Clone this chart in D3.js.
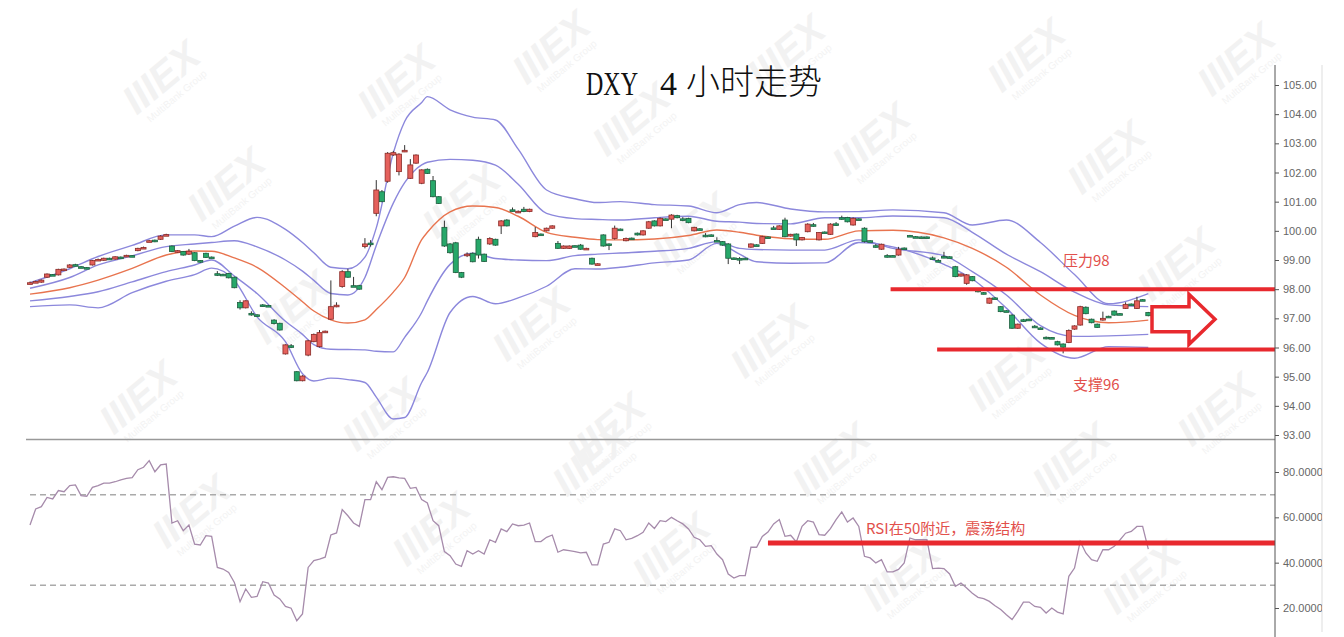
<!DOCTYPE html>
<html><head><meta charset="utf-8">
<script src="https://cdn.jsdelivr.net/npm/d3@7"></script>
<style>html,body{margin:0;padding:0;background:#fff;}svg{display:block;}</style>
</head><body>
<svg id="chart" width="1344" height="637"></svg>
<script>
// ---------- DATA ----------
const opens = [
98.20,98.24,98.24,98.41,98.50,98.49,98.67,98.75,98.84,98.77,
98.74,98.83,99.00,98.99,99.06,99.03,99.10,99.14,99.15,99.32,
99.41,99.64,99.68,99.71,99.85,99.48,99.27,99.29,99.20,99.25,
98.98,99.23,99.10,98.53,98.51,98.54,98.41,97.54,97.36,97.17,
97.12,97.46,97.44,96.94,96.83,95.78,96.06,95.17,94.86,95.74,
96.20,96.03,96.53,96.97,97.41,98.09,98.60,98.12,98.12,99.46,
99.58,100.60,101.34,101.70,102.60,102.03,102.72,101.80,102.32,101.63,
102.11,101.72,101.17,100.12,99.55,99.59,98.57,99.15,99.23,99.71,
99.20,99.55,99.71,100.17,100.37,100.72,100.64,100.74,100.66,99.80,
99.89,100.00,100.09,99.57,99.40,99.40,99.49,99.51,99.38,99.06,
98.85,99.86,99.55,99.74,100.06,99.66,99.75,99.92,99.86,100.09,
100.34,100.17,100.41,100.40,100.52,100.41,100.42,100.00,100.07,99.85,
99.86,99.67,99.63,99.55,99.07,99.05,99.06,99.44,99.52,99.57,
99.79,100.10,100.05,100.37,99.82,99.89,99.69,99.97,100.21,99.69,
99.96,99.88,100.24,100.45,100.46,100.20,100.41,100.09,99.66,99.49,
99.37,99.15,99.15,99.17,99.41,99.84,99.80,99.79,99.79,99.07,
98.98,99.12,99.11,98.77,98.45,98.20,98.43,97.97,97.88,97.52,
97.70,97.40,97.26,97.11,96.66,96.95,96.97,96.73,96.67,96.35,
96.34,96.20,96.12,96.17,96.63,96.77,97.38,96.97,96.80,96.94,
97.07,97.25,97.16,97.34,97.49,97.34,97.64,97.20];
const closes = [
98.22,98.26,98.31,98.52,98.48,98.68,98.69,98.83,98.82,98.75,
98.72,98.98,99.02,99.06,99.04,99.11,99.09,99.16,99.13,99.40,
99.43,99.66,99.63,99.82,99.87,99.29,99.32,99.17,99.30,98.98,
98.96,99.09,99.08,98.52,98.49,98.39,98.05,97.36,97.60,97.16,
97.10,97.43,97.42,96.82,96.60,96.09,96.05,94.86,95.02,96.23,
96.45,96.51,96.56,97.40,97.45,98.60,98.41,98.10,98.00,99.55,
99.57,101.40,101.00,102.66,102.68,102.63,102.76,102.26,102.60,102.09,
101.97,101.17,100.94,99.48,99.25,98.57,98.41,99.20,98.94,99.17,
98.95,99.74,99.51,100.34,100.17,100.70,100.67,100.66,100.74,99.94,
99.87,100.09,100.17,99.40,99.48,99.48,99.47,99.37,99.40,98.86,
98.87,99.48,99.53,100.09,100.04,99.74,99.73,99.86,100.00,100.31,
100.17,100.43,100.39,100.54,100.45,100.40,100.28,100.12,100.05,99.84,
99.84,99.65,99.51,99.06,99.05,99.03,99.04,99.55,99.50,99.80,
99.77,100.08,100.17,99.80,99.88,99.69,99.77,100.23,100.20,99.94,
99.94,100.23,100.23,100.42,100.31,100.43,100.39,99.63,99.64,99.48,
99.54,99.14,99.13,99.37,99.39,99.82,99.78,99.78,99.77,99.06,
98.97,99.10,99.09,98.43,98.52,98.49,98.29,97.91,97.84,97.69,
97.68,97.23,97.24,96.66,96.80,96.93,96.95,96.71,96.65,96.33,
96.33,96.09,96.01,96.58,96.74,97.40,97.16,96.85,96.69,97.00,
97.05,97.11,97.14,97.48,97.47,97.60,97.62,97.09];
const highs = [
98.26,98.29,98.33,98.54,98.52,98.70,98.71,98.86,98.87,98.79,
98.76,99.00,99.05,99.08,99.08,99.13,99.12,99.18,99.16,99.42,
99.46,99.69,99.70,99.85,99.90,99.50,99.34,99.31,99.38,99.27,
99.00,99.25,99.12,98.62,98.53,98.56,98.43,97.62,97.62,97.24,
97.14,97.49,97.46,96.97,96.85,96.11,96.12,95.19,95.05,96.26,
96.48,96.60,96.58,98.30,97.55,98.65,98.70,98.42,98.15,99.75,
99.68,101.74,101.40,102.70,102.74,102.66,102.94,102.46,102.62,102.11,
102.14,101.88,101.19,100.35,99.58,99.62,98.59,99.26,99.26,99.80,
99.22,99.78,99.73,100.37,100.40,100.80,100.70,100.82,100.76,100.13,
99.91,100.11,100.19,99.65,99.50,99.50,99.50,99.55,99.42,99.08,
98.89,99.88,99.57,100.18,100.08,99.77,99.77,99.94,100.02,100.34,
100.36,100.46,100.43,100.57,100.55,100.47,100.45,100.14,100.09,99.92,
99.88,99.78,99.65,99.58,99.09,99.10,99.08,99.57,99.54,99.83,
99.81,100.17,100.19,100.45,99.90,99.91,99.79,100.26,100.27,99.96,
99.98,100.26,100.30,100.52,100.48,100.46,100.43,100.12,99.68,99.55,
99.56,99.20,99.17,99.45,99.43,99.86,99.82,99.81,99.81,99.12,
99.03,99.28,99.13,98.80,98.54,98.52,98.45,97.99,97.90,97.71,
97.72,97.42,97.28,97.14,96.82,96.98,96.99,96.77,96.69,96.38,
96.36,96.23,96.14,96.62,96.76,97.43,97.41,96.99,96.82,97.23,
97.09,97.27,97.18,97.55,97.51,97.74,97.66,97.22];
const lows = [
98.17,98.21,98.22,98.39,98.46,98.47,98.65,98.73,98.80,98.73,
98.70,98.81,98.98,98.97,99.02,99.01,99.07,99.12,99.10,99.30,
99.39,99.62,99.61,99.69,99.83,99.27,99.25,99.15,99.17,98.96,
98.90,99.07,99.06,98.45,98.47,98.37,98.03,97.30,97.34,97.09,
97.07,97.40,97.40,96.79,96.58,95.76,95.98,94.84,94.84,95.70,
96.18,96.00,96.51,96.95,97.38,98.05,98.39,98.08,97.98,99.40,
99.46,100.50,100.98,101.65,102.57,101.90,102.70,101.78,102.30,101.60,
101.95,101.15,100.92,99.45,99.22,98.55,98.38,99.10,98.92,99.05,
98.93,99.52,99.49,99.89,100.15,100.66,100.62,100.64,100.64,99.78,
99.85,99.98,100.07,99.38,99.38,99.38,99.45,99.35,99.36,98.84,
98.83,99.46,99.34,99.70,100.02,99.64,99.71,99.84,99.84,100.07,
100.15,100.15,100.37,100.09,100.43,100.33,100.26,99.98,100.03,99.78,
99.82,99.63,99.49,98.86,99.03,98.86,99.02,99.42,99.48,99.55,
99.75,100.06,100.03,99.78,99.80,99.48,99.67,99.95,100.14,99.67,
99.92,99.86,100.17,100.38,100.29,100.18,100.37,99.60,99.62,99.42,
99.35,99.08,99.11,99.15,99.37,99.80,99.76,99.76,99.75,99.01,
98.93,99.06,99.07,98.41,98.43,98.15,98.27,97.89,97.82,97.50,
97.66,97.21,97.22,96.64,96.64,96.88,96.93,96.68,96.63,96.28,
96.31,96.07,95.80,96.15,96.61,96.75,97.14,96.83,96.67,96.92,
97.03,97.09,97.12,97.32,97.45,97.32,97.60,97.07];

// Bollinger-style envelopes, read at these candle indices
const bandIdx = [0,7,12,18,24,29,32,36,40,45,48,50,53,56,59,61,64,66,69,70,74,78,82,86,91,96,100,104,110,116,121,125,128,134,140,146,152,161,166,172,178,184,190,197];
const bbUpper2 = [98.22,98.7,99.12,99.5,99.86,99.86,99.8,100.16,100.46,100.05,
99.6,99.25,98.75,98.7,99.1,100.1,102.67,103.75,104.4,104.6,
104.15,103.9,103.8,102.8,101.4,101.1,100.97,101.0,100.9,100.85,
100.62,100.9,100.97,100.75,100.65,100.66,100.72,100.62,100.2,100.37,
99.6,98.5,97.5,97.85];
const bbUpper1 = [98.03,98.4,98.83,99.14,99.46,99.55,99.6,99.66,99.45,99.0,
98.62,98.3,97.85,97.8,98.4,99.5,100.95,101.65,102.26,102.35,
102.45,102.42,102.25,101.6,100.6,100.42,100.39,100.37,100.45,100.5,
100.33,100.3,100.25,100.24,100.45,100.45,100.51,100.45,99.95,99.2,
98.6,97.9,97.46,97.4];
const bbMid = [97.83,98.05,98.31,98.71,99.17,99.31,99.3,99.07,98.75,98.05,
97.57,97.25,96.95,96.84,96.95,97.3,97.9,98.4,99.7,99.95,
100.65,100.85,100.8,100.5,99.95,99.78,99.7,99.69,99.72,99.84,
100.03,99.95,99.85,99.73,99.71,100.0,100.02,99.76,99.4,98.75,
97.8,97.1,96.85,96.94];
const bbLower1 = [97.6,97.75,97.91,98.25,98.6,98.83,99.0,98.45,97.85,96.9,
96.45,96.1,95.94,95.93,95.92,95.87,95.85,96.35,97.2,97.6,
98.85,99.23,99.05,99.0,98.98,99.15,99.2,99.24,99.3,99.4,
99.63,99.4,99.36,99.34,99.34,99.69,99.4,99.15,98.6,97.8,
96.75,96.38,96.4,96.45];
const bbLower2 = [97.4,97.46,97.36,97.88,98.27,98.5,98.72,98.3,97.05,96.2,
95.1,94.85,94.95,94.9,94.8,94.3,93.55,93.6,94.8,95.15,
97.2,97.75,97.5,97.7,98.1,98.7,98.69,98.75,98.9,99.0,
99.57,99.2,98.94,98.89,98.9,99.6,99.45,98.85,98.35,97.35,
96.15,95.63,96.03,96.0];

const rsi = [
56.6,63.7,64.7,68.8,68.1,71.8,71.3,74,74.3,69.6,
69.3,73.2,74,75.1,75.1,75.7,76.5,77.2,77.5,81,
82.1,85,80.1,83.1,83.5,57.5,58.5,54.1,56.6,48.2,
47.8,51.9,51.6,37.9,37.2,35.7,31.3,22.8,28.4,24.7,
25.1,31.6,31,25.7,24,20.7,19.9,14.4,17.4,37.9,
40.9,41.6,42.4,52.2,53.1,63.4,60.7,57.5,56,67.8,
67.8,75.7,72.2,77.6,77.9,77.4,77.2,72.8,73.2,67.8,
66.3,58.5,56.3,44.9,43.1,39.4,38.4,45.3,43.8,45.3,
43.8,50.1,49,54.9,53.7,57.1,56.3,56.6,57.5,49.3,
49.3,51.2,52.2,44.6,45.7,45.3,44.9,44.3,44.6,39,
39,48.2,49,54.9,54.1,50.1,50.7,51.9,53.4,57.5,
55.1,58.5,58.1,60,58.5,57.1,54.9,51.2,50.1,47.2,
47.5,43.8,41.3,35,33.2,34.3,34.3,46.8,46.8,51.6,
53.5,57.1,59,51.6,52.1,49.1,56,58.5,57.9,52.4,
52.1,55,59,62.4,57.9,59.7,56,42.8,42.1,39.9,
41.3,35.9,35.9,37,39.9,50.9,50.1,50.1,50.1,37.4,
37.6,37.4,35,29.6,31,28.8,26.5,24.7,24.1,22.9,
21,19.3,17,14.9,18.5,22.6,22.6,20.7,20.3,17.8,
20,18.2,17.4,34,37.6,49.4,44.3,41.3,40.6,45.7,
45.7,47.2,50,53,53.8,56,56,46];

const priceTicks = [93,94,95,96,97,98,99,100,101,102,103,104,105];
const rsiTicks = [20,40,60,80];
const rsiLevels = [70,30];
const resistance = 98.0, support = 95.93, rsiRef = 48.7;
const titleLatin = "DXY", titleNum = "4", titleCJK = "小时走势";
const labelRes = "压力98", labelSup = "支撑96", labelRsi = "RSI在50附近，震荡结构";

// ---------- CHART ----------
const svg = d3.select('#chart');
const x = d3.scaleLinear().domain([0, 197]).range([30, 1148.3]);
const y = d3.scaleLinear().domain([93, 105]).range([435, 85]);
const yR = d3.scaleLinear().domain([20, 80]).range([608, 472]);
const axisX = 1275;

// watermarks (decoration)
const wmPos = [[560,58],[795,62],[1035,66],[170,88],[405,92],[640,130],[880,150],[1115,168],
  [235,195],[470,212],[700,240],[940,255],[1185,275],[300,318],[540,335],[778,352],[1015,385],
  [147,408],[390,425],[615,440],[1225,420],[600,470],[840,470],[1080,470],[200,522],[440,540],
  [680,560],[910,585],[1150,588],[1245,70]];
const wm = svg.append('g');
wmPos.forEach(([cx, cy]) => {
  const g = wm.append('g').attr('transform', `translate(${cx},${cy}) rotate(-40)`);
  g.append('text').text('IIIEX').attr('text-anchor','middle')
    .attr('font-family','Liberation Sans, Arial').attr('font-weight','bold').attr('font-style','italic')
    .attr('font-size',40).attr('fill','#f2f2f2');
  g.append('text').text('MultiBank Group').attr('text-anchor','middle').attr('y',14)
    .attr('font-family','Liberation Sans, Arial').attr('font-size',10).attr('fill','#f3f3f3');
});

// title
svg.append('text').text(titleLatin).attr('x',586).attr('y',95)
  .attr('font-family','Liberation Serif, serif').attr('font-size',34).attr('fill','#111')
  .attr('textLength',52).attr('lengthAdjust','spacingAndGlyphs');
svg.append('text').text(titleNum).attr('x',660).attr('y',95)
  .attr('font-family','Liberation Serif, serif').attr('font-size',34).attr('fill','#111');
svg.append('text').text(titleCJK).attr('x',686).attr('y',94)
  .attr('font-family','Noto Sans CJK SC').attr('font-weight',300).attr('font-size',34).attr('fill','#111');

// panel separator and borders
svg.append('line').attr('x1',26).attr('x2',axisX).attr('y1',439.5).attr('y2',439.5)
  .attr('stroke','#999').attr('stroke-width',1.5);
svg.append('line').attr('x1',1322).attr('x2',1322).attr('y1',65).attr('y2',632)
  .attr('stroke','#ddd').attr('stroke-width',1);

// RSI dashed levels
rsiLevels.forEach(v => svg.append('line').attr('x1',30).attr('x2',axisX)
  .attr('y1',yR(v)).attr('y2',yR(v)).attr('stroke','#aaa').attr('stroke-width',1.5)
  .attr('stroke-dasharray','6,4'));

// bands
const bandPath = vals => d3.line().x((d,i)=>x(bandIdx[i])).y(d=>y(d)).curve(d3.curveMonotoneX)(vals);
[bbUpper2, bbUpper1, bbLower1, bbLower2].forEach(v =>
  svg.append('path').attr('d', bandPath(v)).attr('fill','none').attr('stroke','#8c88dc').attr('stroke-width',1.4));
svg.append('path').attr('d', bandPath(bbMid)).attr('fill','none').attr('stroke','#e8744f').attr('stroke-width',1.4);

// candles
const cg = svg.append('g');
opens.forEach((o, i) => {
  const c = closes[i], up = c >= o;
  const cx = x(i);
  cg.append('line').attr('x1',cx).attr('x2',cx).attr('y1',y(highs[i])).attr('y2',y(lows[i]))
    .attr('stroke','#333').attr('stroke-width',1);
  const top = y(Math.max(o,c)), bot = y(Math.min(o,c));
  const h = Math.max(bot - top, 1.6);
  cg.append('rect').attr('x',cx-2.5).attr('width',5).attr('y',top).attr('height',h)
    .attr('fill', up ? '#e5615c' : '#27a86a')
    .attr('stroke', up ? '#8a2a26' : '#1d5e3e').attr('stroke-width',0.8);
});

// RSI line
svg.append('path').attr('d', d3.line().x((d,i)=>x(i)).y(d=>yR(d))(rsi))
  .attr('fill','none').attr('stroke','#a68bab').attr('stroke-width',1.3);

// annotations
const red = '#e8292e';
svg.append('line').attr('x1',x(151.6)).attr('x2',axisX).attr('y1',y(resistance)).attr('y2',y(resistance))
  .attr('stroke',red).attr('stroke-width',4);
svg.append('line').attr('x1',x(159.8)).attr('x2',axisX).attr('y1',y(support)).attr('y2',y(support))
  .attr('stroke',red).attr('stroke-width',4);
svg.append('line').attr('x1',x(130)).attr('x2',axisX).attr('y1',yR(rsiRef)).attr('y2',yR(rsiRef))
  .attr('stroke',red).attr('stroke-width',5);
const txt = (t, tx, ty) => svg.append('text').text(t).attr('x',tx).attr('y',ty)
  .attr('font-family','Noto Sans CJK SC').attr('font-size',15).attr('fill','#e2504c');
txt(labelRes, 1063, 266);
txt(labelSup, 1073, 390);
txt(labelRsi, 866, 534);

// arrow
const yc = y(97) + 1, x0 = 1152, x1 = 1189, xt = 1215;
svg.append('polygon')
  .attr('points', [[x0,yc-12.5],[x1,yc-12.5],[x1,yc-25],[xt,yc],[x1,yc+25],[x1,yc+12.5],[x0,yc+12.5]].map(p=>p.join(',')).join(' '))
  .attr('fill','#fff').attr('stroke',red).attr('stroke-width',3.5).attr('stroke-linejoin','miter');

// axes
svg.append('line').attr('x1',axisX).attr('x2',axisX).attr('y1',65).attr('y2',637)
  .attr('stroke','#555').attr('stroke-width',1);
svg.append('defs').append('clipPath').attr('id','clipR').append('rect')
  .attr('x',axisX).attr('y',440).attr('width',1322-axisX).attr('height',200);
const ga = svg.append('g').attr('transform',`translate(${axisX},0)`)
  .call(d3.axisRight(y).tickValues(priceTicks).tickFormat(d3.format('.2f')).tickSize(4).tickPadding(4));
const gr = svg.append('g').attr('clip-path','url(#clipR)').append('g').attr('transform',`translate(${axisX},0)`)
  .call(d3.axisRight(yR).tickValues(rsiTicks).tickFormat(d3.format('.4f')).tickSize(4).tickPadding(4));
[ga, gr].forEach(g => {
  g.select('.domain').remove();
  g.selectAll('.tick line').attr('stroke','#555');
  g.selectAll('.tick text').attr('fill','#666').attr('font-family','Liberation Sans, Arial').attr('font-size',11);
});
</script>
</body></html>
